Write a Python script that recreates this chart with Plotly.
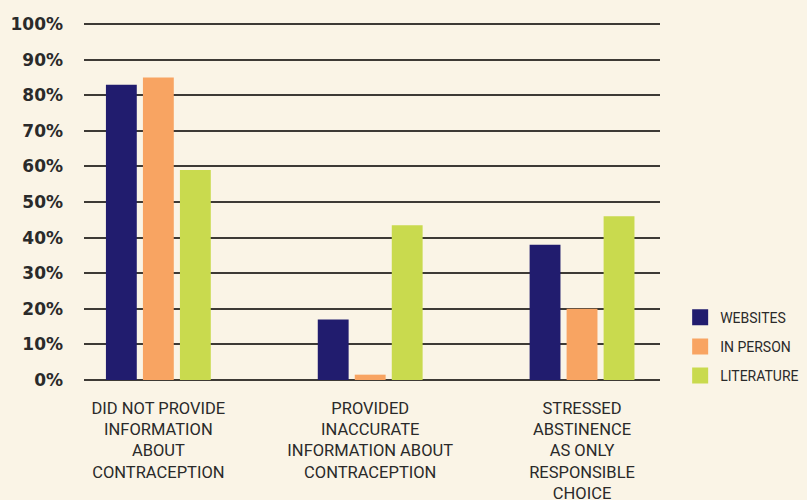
import plotly.graph_objects as go

categories = ["DID NOT PROVIDE<br>INFORMATION<br>ABOUT<br>CONTRACEPTION",
              "PROVIDED<br>INACCURATE<br>INFORMATION ABOUT<br>CONTRACEPTION",
              "STRESSED<br>ABSTINENCE<br>AS ONLY<br>RESPONSIBLE<br>CHOICE"]
series_names = ["WEBSITES", "IN PERSON", "LITERATURE"]
websites = [83, 17, 38]
in_person = [85, 1.5, 20]
literature = [59, 43.5, 46]
y_ticks = [0, 10, 20, 30, 40, 50, 60, 70, 80, 90, 100]
y_tick_labels = [f"{v}%" for v in y_ticks]

colors = ["#211c6e", "#f8a462", "#c9da4e"]
bg = "#faf4e6"
text_color = "#2a2a2a"

x_pos = list(range(len(categories)))
fig = go.Figure()
for name, vals, col in zip(series_names, [websites, in_person, literature], colors):
    fig.add_trace(go.Bar(x=x_pos, y=vals, name=name, marker=dict(color=col, line=dict(width=0)),
                         showlegend=False))
for i, (name, col) in enumerate(zip(series_names, colors)):
    fig.add_trace(go.Scatter(x=[None], y=[None], mode="markers", name=name, legendgroup=name,
                             marker=dict(symbol="square", size=16, color=col)))

fig.update_layout(
    width=807, height=500,
    paper_bgcolor=bg, plot_bgcolor=bg,
    margin=dict(l=84, r=147, t=22, b=120, autoexpand=False),
    barmode="group", bargap=0.476, bargroupgap=0.166,
    showlegend=True,
    legend=dict(x=1.035, xanchor="left", y=0.219, yanchor="top",
                font=dict(family="Roboto, Liberation Sans, sans-serif", size=14, color=text_color),
                tracegroupgap=8, bgcolor="rgba(0,0,0,0)"),
    xaxis=dict(range=[-0.351, 2.368], tickmode="array", tickvals=x_pos, ticktext=categories,
               showgrid=False, zeroline=False, showline=False, ticks="", automargin=False,
               ticklabelstandoff=16,
               tickfont=dict(family="Roboto, Liberation Sans, sans-serif", size=16.5, color=text_color),
               fixedrange=True),
    yaxis=dict(range=[0, 100.6], tickmode="array", tickvals=y_ticks, ticktext=y_tick_labels,
               showgrid=True, gridcolor="#3d3a35", gridwidth=1.5,
               zeroline=True, zerolinecolor="#3d3a35", zerolinewidth=1.5,
               showline=False, ticks="", ticklabelstandoff=20, automargin=False,
               tickfont=dict(family="DejaVu Sans", size=17, color=text_color, weight="bold"),
               fixedrange=True),
    font=dict(family="Roboto, Liberation Sans, sans-serif", color=text_color),
)

fig.write_html("out.html", config={"displayModeBar": False},
               post_script="document.body.style.margin='0';document.body.style.background='#faf4e6';")
